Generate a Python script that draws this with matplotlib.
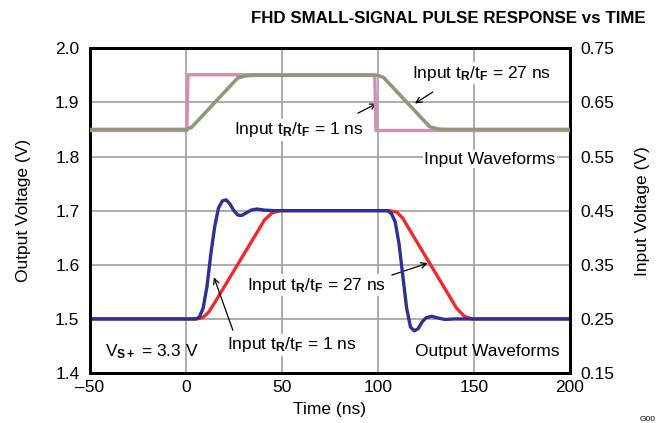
'''
FHD small-signal pulse response vs time.
'''

import matplotlib
matplotlib.use('Agg')
import matplotlib.pyplot as plt

plt.rcParams['font.family'] = ['Liberation Sans', 'DejaVu Sans']
plt.rcParams['mathtext.fontset'] = 'custom'
plt.rcParams['mathtext.rm'] = 'Liberation Sans'
plt.rcParams['mathtext.bf'] = 'Liberation Sans:bold'
plt.rcParams['mathtext.it'] = 'Liberation Sans'

# input waveforms (right axis, V)
in_fast_t = [-50, 0.5, 1.1, 98.4, 99, 200]
in_fast_v = [0.598, 0.598, 0.701, 0.701, 0.598, 0.598]
in_slow_t = [-50, 0, 3, 27, 31, 35, 100, 103, 127, 131, 135, 200]
in_slow_v = [0.60, 0.60, 0.604, 0.695, 0.699, 0.70, 0.70, 0.696, 0.605, 0.601, 0.60, 0.60]

# output waveforms (left axis, V)
out_fast_t = [-50, 5, 7, 9, 11, 13, 15, 17, 19, 21, 23, 25, 27, 29, 31, 34, 37, 41, 46,
              105, 107, 109, 111, 113, 115, 117, 119, 121, 123, 125, 128, 131, 135, 140, 200]
out_fast_v = [1.5, 1.5, 1.503, 1.52, 1.56, 1.62, 1.67, 1.705, 1.718, 1.72, 1.712, 1.70, 1.692,
              1.691, 1.695, 1.701, 1.703, 1.701, 1.70,
              1.70, 1.695, 1.68, 1.64, 1.58, 1.52, 1.485, 1.478, 1.482, 1.494, 1.502, 1.505,
              1.502, 1.499, 1.50, 1.50]
out_slow_t = [-50, 6, 9, 12, 15, 41, 45, 49, 106, 110, 113, 116, 141, 145, 149, 200]
out_slow_v = [1.5, 1.5, 1.503, 1.513, 1.53, 1.683, 1.696, 1.70, 1.70, 1.697, 1.686, 1.668,
              1.52, 1.505, 1.50, 1.50]

xticks = [-50, 0, 50, 100, 150, 200]
yticks_left = [1.4, 1.5, 1.6, 1.7, 1.8, 1.9, 2.0]
yticks_right = [0.15, 0.25, 0.35, 0.45, 0.55, 0.65, 0.75]

fig = plt.figure(figsize=(6.61, 4.23), dpi=100)
ax = fig.add_axes([0.136, 0.118, 0.726, 0.768])
ax2 = ax.twinx()

ax.plot(out_slow_t, out_slow_v, color='#ee2a2e', lw=2.4, zorder=3)
ax.plot(out_fast_t, out_fast_v, color='#2e3192', lw=2.4, zorder=4)
ax2.plot(in_fast_t, in_fast_v, color='#d48db4', lw=2.4, zorder=3)
ax2.plot(in_slow_t, in_slow_v, color='#8c9a7a', lw=2.6, zorder=4)

ax.set_xlim(-50, 200)
ax.set_ylim(1.4, 2.0)
ax2.set_ylim(0.15, 0.75)
ax.set_xticks(xticks)
ax.set_xticklabels(['\u201350'] + [str(t) for t in xticks[1:]])
ax.set_yticks(yticks_left)
ax.set_yticklabels(['%.1f' % v for v in yticks_left])
ax2.set_yticks(yticks_right)
ax2.set_yticklabels(['%.2f' % v for v in yticks_right])
ax.grid(True, color='#a0a0a0', lw=1.2)
for a in (ax, ax2):
    a.tick_params(axis='y', length=0, labelsize=12.5, pad=7.5)
    a.tick_params(axis='x', length=0, labelsize=12.5, pad=5)
    for s in a.spines.values():
        s.set_linewidth(2)
ax2.grid(False)

ax.set_xlabel('Time (ns)', fontsize=12.5, labelpad=5)
ax.set_ylabel('Output Voltage (V)', fontsize=12.5, labelpad=17)
ax2.set_ylabel('Input Voltage (V)', fontsize=12.5, labelpad=15)

fig.text(0.976, 0.957, 'FHD SMALL-SIGNAL PULSE RESPONSE vs TIME', ha='right', va='center',
         fontsize=12.2, fontweight='bold')
fig.text(0.968, 0.0, 'G00', fontsize=6, ha='left', va='bottom')

lab1 = r'Input t$_{\mathbf{R}}$/t$_{\mathbf{F}}$ = 1 ns'
lab27 = r'Input t$_{\mathbf{R}}$/t$_{\mathbf{F}}$ = 27 ns'
bbox = dict(facecolor='white', edgecolor='none', pad=1)
arrow = dict(arrowstyle='->', color='black', lw=0.9, shrinkA=0, shrinkB=0)

# input annotations
ax.annotate('', xy=(99.5, 1.898), xytext=(89.6, 1.880), arrowprops=arrow)
ax.text(58.9, 1.849, lab1, ha='center', va='center', fontsize=12.5, bbox=bbox)
ax.annotate('', xy=(119.3, 1.898), xytext=(128.6, 1.919), arrowprops=arrow)
ax.text(154.2, 1.954, lab27, ha='center', va='center', fontsize=12.5, bbox=bbox)
ax.text(158.3, 1.795, 'Input Waveforms', ha='center', va='center', fontsize=12.5, bbox=bbox)

# output annotations
ax.annotate('', xy=(126, 1.603), xytext=(107.3, 1.581), arrowprops=arrow)
ax.text(68.2, 1.5625, lab27, ha='center', va='center', fontsize=12.5, bbox=bbox)
ax.annotate('', xy=(14.6, 1.577), xytext=(24.5, 1.479), arrowprops=arrow)
ax.text(55.2, 1.452, lab1, ha='center', va='center', fontsize=12.5, bbox=bbox)
ax.text(-42.2, 1.439, r'V$_{\mathbf{S+}}$ = 3.3 V', ha='left', va='center', fontsize=12.5)
ax.text(194.8, 1.439, 'Output Waveforms', ha='right', va='center', fontsize=12.5)

plt.savefig('out.png', dpi=100)
plt.close()
